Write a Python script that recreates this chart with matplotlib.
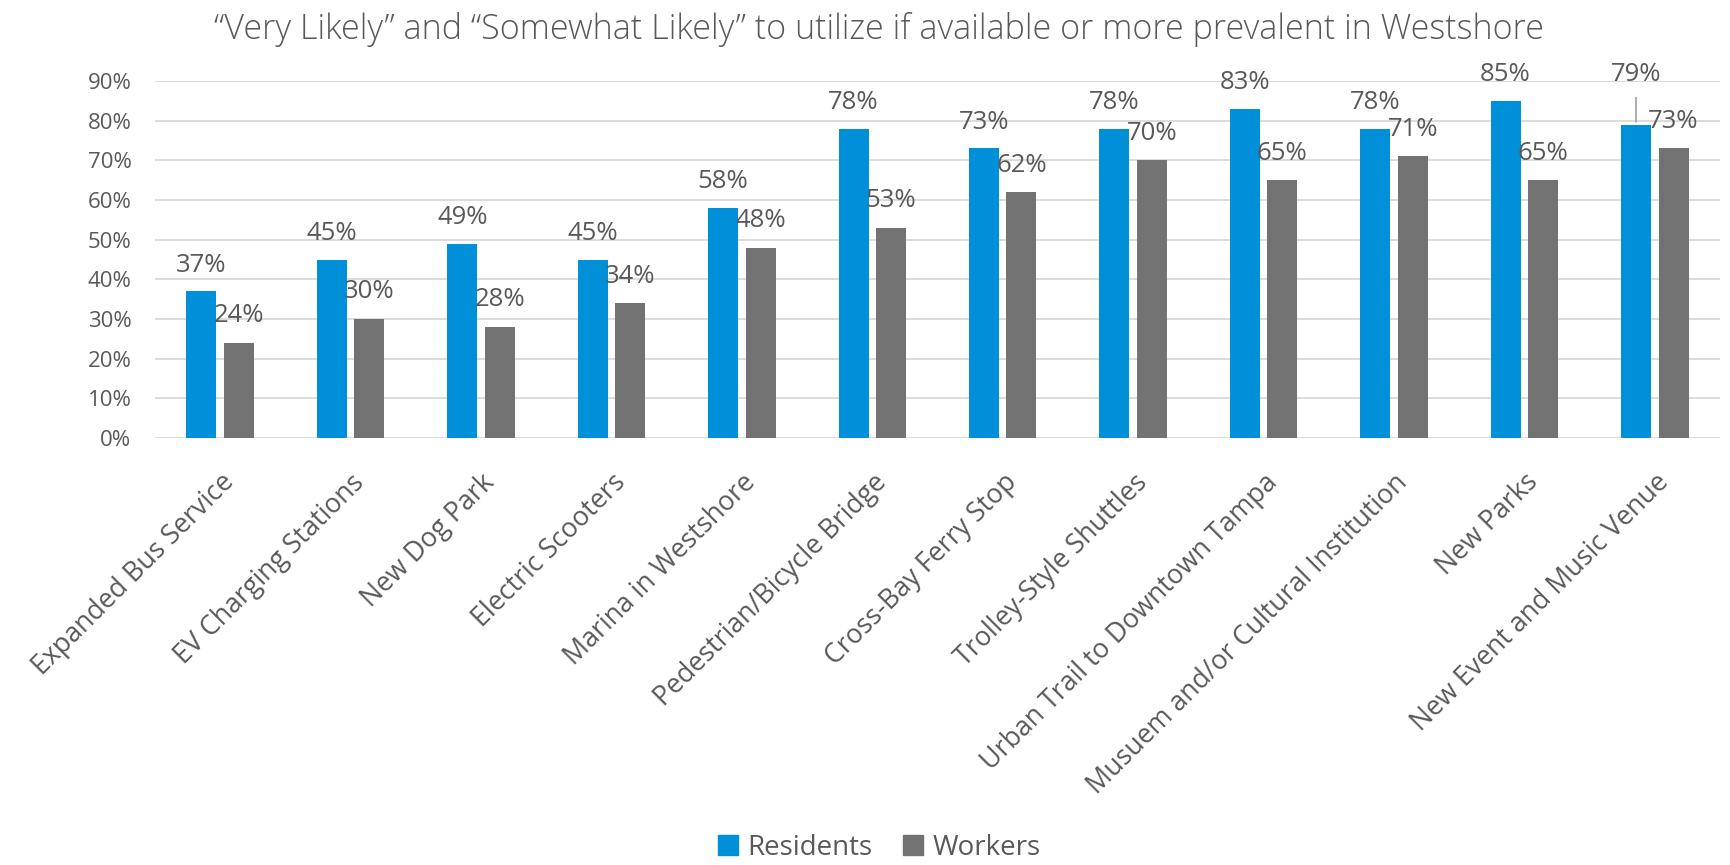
import matplotlib
matplotlib.use("Agg")
import matplotlib.pyplot as plt
import numpy as np
from matplotlib.patches import Patch

categories = ["Expanded Bus Service", "EV Charging Stations", "New Dog Park", "Electric Scooters",
              "Marina in Westshore", "Pedestrian/Bicycle Bridge", "Cross-Bay Ferry Stop",
              "Trolley-Style Shuttles", "Urban Trail to Downtown Tampa",
              "Musuem and/or Cultural Institution", "New Parks", "New Event and Music Venue"]
residents = [37, 45, 49, 45, 58, 78, 73, 78, 83, 78, 85, 79]
workers = [24, 30, 28, 34, 48, 53, 62, 70, 65, 71, 65, 73]
yticks = [0, 10, 20, 30, 40, 50, 60, 70, 80, 90]
title = "\u201cVery Likely\u201d and \u201cSomewhat Likely\u201d to utilize if available or more prevalent in Westshore"

BLUE = "#0090DA"
GRAY = "#717271"
TXT = "#595959"
FONT = ["Open Sans", "DejaVu Sans"]

plt.rcParams['font.family'] = FONT

fig = plt.figure(figsize=(17.31, 8.65), dpi=100)
ax = fig.add_axes([155/1731, 427/865, 1565/1731, 357/865])

x = np.arange(len(categories))
w = 0.23
off = 0.144
bars_r = ax.bar(x - off, residents, w, color=BLUE, zorder=3)
bars_w = ax.bar(x + off, workers, w, color=GRAY, zorder=3)

ax.set_xlim(-0.5, len(categories) - 0.5)
ax.set_ylim(0, 90)
ax.set_yticks(yticks)
ax.set_yticklabels([f"{t}%" for t in yticks], fontsize=16, color=TXT)
ax.yaxis.grid(True, color="#D9D9D9", linewidth=1.3, zorder=0)
ax.tick_params(axis='y', length=0, pad=17)
ax.tick_params(axis='x', length=0, pad=22)
for s in ax.spines.values():
    s.set_visible(False)

ax.set_xticks(x)
ax.set_xticklabels(categories, rotation=45, ha='right', rotation_mode='anchor',
                   fontsize=19.3, color=TXT)

LBL = 18.5
for i, (b, v) in enumerate(zip(bars_r, residents)):
    cx = b.get_x() + b.get_width() / 2
    if i == len(categories) - 1:
        ax.annotate(f"{v}%", (cx, v), xytext=(0, 50), textcoords='offset pixels',
                    ha='center', va='center', fontsize=LBL, color=TXT)
        ax.annotate("", (cx, v), xytext=(cx, v + 7.5), textcoords='data',
                    arrowprops=dict(arrowstyle='-', color='#A6A6A6', lw=1.3))
    else:
        ax.annotate(f"{v}%", (cx, v), xytext=(0, 26), textcoords='offset pixels',
                    ha='center', va='center', fontsize=LBL, color=TXT)
for b, v in zip(bars_w, workers):
    cx = b.get_x() + b.get_width() / 2
    ax.annotate(f"{v}%", (cx, v), xytext=(0, 27), textcoords='offset pixels',
                ha='center', va='center', fontsize=LBL, color=TXT)

fig.text(0.508, 0.966, title, ha='center', va='center', fontsize=24.6, color=TXT,
         weight='light')

handles = [Patch(color=BLUE, label="Residents"), Patch(color=GRAY, label="Workers")]
leg = fig.legend(handles=handles, loc='center', bbox_to_anchor=(0.508, 0.02), ncol=2,
                 frameon=False, fontsize=20, handlelength=0.7, handleheight=0.7,
                 columnspacing=1.1, handletextpad=0.35, borderpad=0.1)
for t in leg.get_texts():
    t.set_color(TXT)

fig.savefig("out.png", dpi=100)
